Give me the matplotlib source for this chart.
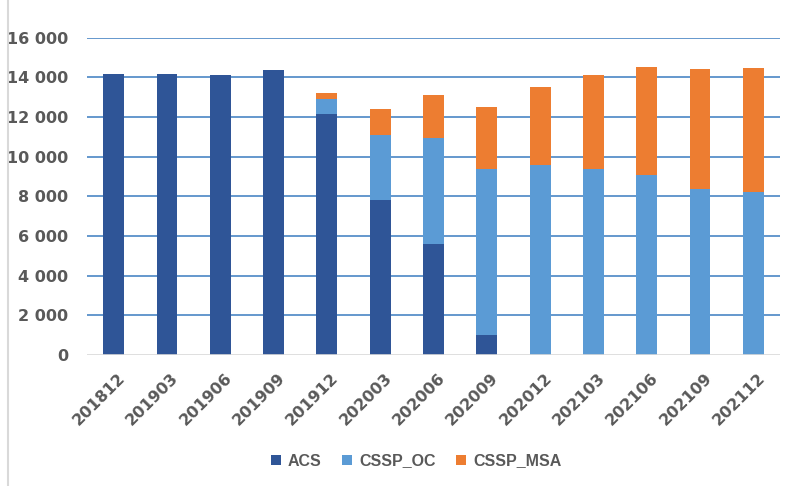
import matplotlib
matplotlib.use("Agg")
import matplotlib.pyplot as plt
import matplotlib.transforms as mtransforms
import numpy as np

categories = ["201812", "201903", "201906", "201909", "201912", "202003", "202006",
              "202009", "202012", "202103", "202106", "202109", "202112"]
acs = [14170, 14170, 14120, 14390, 12170, 7820, 5610, 990, 0, 0, 0, 0, 0]
cssp_oc = [0, 0, 0, 0, 750, 3270, 5350, 8390, 9600, 9380, 9060, 8350, 8200]
cssp_msa = [0, 0, 0, 0, 290, 1300, 2130, 3120, 3930, 4740, 5480, 6090, 6290]
yticks = [0, 2000, 4000, 6000, 8000, 10000, 12000, 14000, 16000]
ytick_labels = ["0", "2 000", "4 000", "6 000", "8 000", "10 000", "12 000", "14 000", "16 000"]

plt.rcParams['font.family'] = ['DejaVu Sans']

fig = plt.figure(figsize=(7.95, 4.86), dpi=100)
ax = fig.add_axes([87/795, 1-355/486, (780-87)/795, (355-37.7)/486])

x = np.arange(len(categories))
w = 0.39
acs_a = np.array(acs)
oc_a = np.array(cssp_oc)
msa_a = np.array(cssp_msa)
ax.bar(x, acs_a, w, color="#2f5597", label="ACS", zorder=3)
ax.bar(x, oc_a, w, bottom=acs_a, color="#5b9bd5", label="CSSP_OC", zorder=3)
ax.bar(x, msa_a, w, bottom=acs_a + oc_a, color="#ed7d31", label="CSSP_MSA", zorder=3)

ax.set_xlim(-0.5, len(categories) - 0.5)
ax.set_ylim(0, 16000)
ax.set_yticks(yticks)
ax.set_yticklabels(ytick_labels)
for yv in yticks[1:]:
    ax.axhline(yv, color="#4a86c5", lw=1.2, zorder=1)
ax.axhline(0, color="#d9d9d9", lw=1.2, zorder=4)

for s in ax.spines.values():
    s.set_visible(False)
ax.tick_params(axis='both', length=0, colors="#595959", labelsize=11.5)
ax.tick_params(axis='y', pad=13.5)
ax.set_xticks(x)
ax.set_xticklabels(categories, rotation=45, ha='right', rotation_mode='anchor')
ax.tick_params(axis='x', pad=11)
offset = mtransforms.ScaledTranslation(4/100, 0, fig.dpi_scale_trans)
for t in ax.get_xticklabels():
    t.set_transform(t.get_transform() + offset)
for t in ax.get_xticklabels() + ax.get_yticklabels():
    t.set_fontweight('bold')
    t.set_color("#595959")

leg = fig.legend(loc='center left', bbox_to_anchor=(271/795, 1-461/486), ncol=3, frameon=False,
                 borderpad=0, borderaxespad=0,
                 handlelength=0.6, handleheight=0.6, handletextpad=0.45, columnspacing=1.3,
                 prop={'family': 'Liberation Sans', 'size': 11.5, 'weight': 'bold'})
for t in leg.get_texts():
    t.set_color("#595959")

fig.add_artist(plt.Line2D([8/795, 8/795], [0, 1], color="#d9d9d9", lw=1.5))

fig.savefig("out.png", dpi=100)
